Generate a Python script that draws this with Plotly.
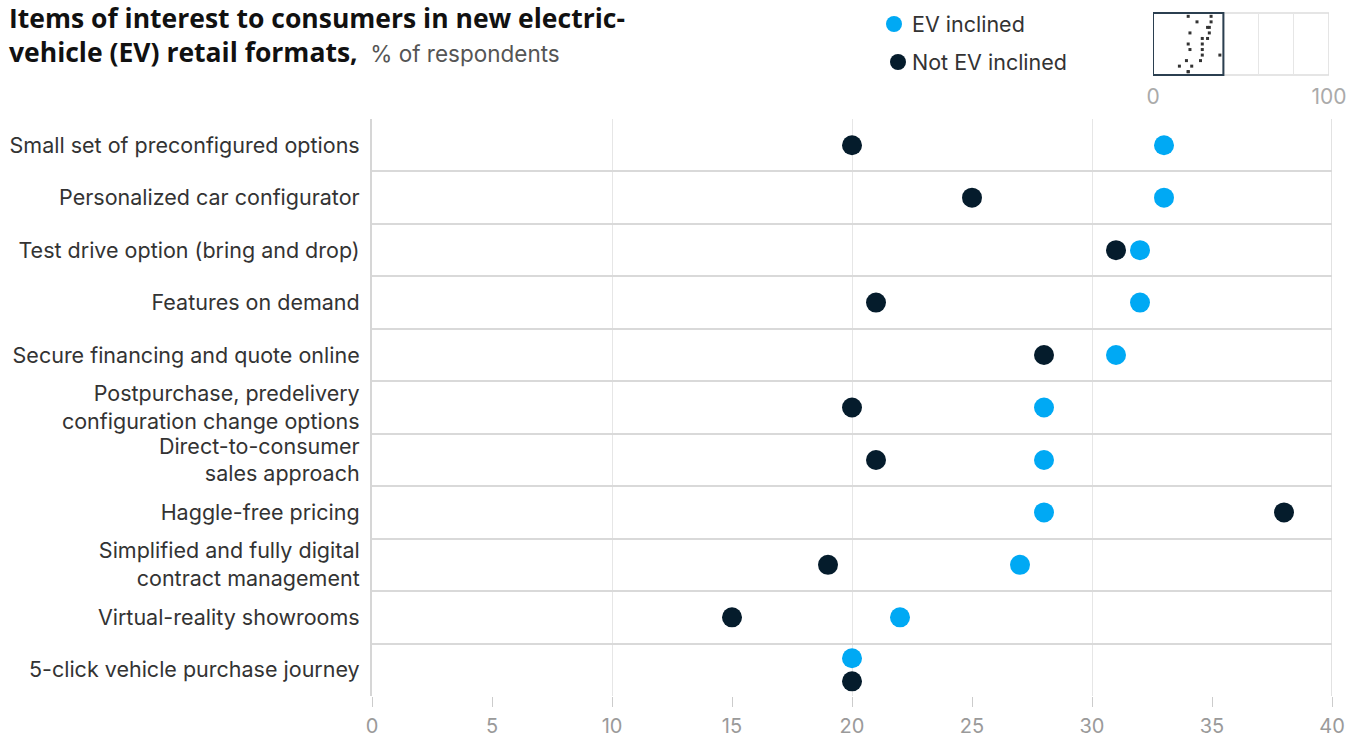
import plotly.graph_objects as go

categories = [
    "Small set of preconfigured options",
    "Personalized car configurator",
    "Test drive option (bring and drop)",
    "Features on demand",
    "Secure financing and quote online",
    "Postpurchase, predelivery<br>configuration change options",
    "Direct-to-consumer<br>sales approach",
    "Haggle-free pricing",
    "Simplified and fully digital<br>contract management",
    "Virtual-reality showrooms",
    "5-click vehicle purchase journey",
]
ev_inclined = [33, 33, 32, 32, 31, 28, 28, 28, 27, 22, 20]
not_ev_inclined = [20, 25, 31, 21, 28, 20, 21, 38, 19, 15, 20]
x_ticks = [0, 5, 10, 15, 20, 25, 30, 35, 40]

EV_COLOR = "#00A9F4"
NOT_COLOR = "#051C2C"
FONT = "Inter"
W, H = 1364, 738

idx = list(range(len(categories)))
# when both values coincide, nudge the two dots apart vertically
ev_y = [i - 0.22 if a == b else i for i, a, b in zip(idx, ev_inclined, not_ev_inclined)]
not_y = [i + 0.22 if a == b else i for i, a, b in zip(idx, ev_inclined, not_ev_inclined)]

def px_x(p):
    return p / W

def px_y(p):
    return 1 - p / H

fig = go.Figure()
fig.add_trace(go.Scatter(x=not_ev_inclined, y=not_y, mode="markers", name="Not EV inclined",
                         marker=dict(size=20, color=NOT_COLOR, line=dict(width=0)),
                         xaxis="x", yaxis="y", showlegend=False))
fig.add_trace(go.Scatter(x=ev_inclined, y=ev_y, mode="markers", name="EV inclined",
                         marker=dict(size=20, color=EV_COLOR, line=dict(width=0)),
                         xaxis="x", yaxis="y", showlegend=False))
# mini overview map
fig.add_trace(go.Scatter(x=not_ev_inclined, y=idx, mode="markers",
                         marker=dict(size=3, color="#333333", symbol="square", line=dict(width=0)),
                         xaxis="x2", yaxis="y2", showlegend=False))
fig.add_trace(go.Scatter(x=ev_inclined, y=idx, mode="markers",
                         marker=dict(size=3, color="#333333", symbol="square", line=dict(width=0)),
                         xaxis="x2", yaxis="y2", showlegend=False))

fig.update_layout(
    template="none",
    width=W, height=H, autosize=False,
    margin=dict(l=0, r=0, t=0, b=0, pad=0, autoexpand=False),
    paper_bgcolor="white", plot_bgcolor="white",
    font=dict(family=FONT, color="#333333"),
    xaxis=dict(
        domain=[px_x(372), px_x(1332)], range=[0, 40], automargin=False,
        tickvals=x_ticks, ticktext=[str(v) for v in x_ticks],
        tickfont=dict(size=20, color="#9a9a9a"),
        ticks="outside", ticklen=10, tickcolor="#cccccc", tickwidth=1,
        ticklabelstandoff=2,
        showgrid=False, zeroline=False, showline=False, anchor="y",
        minor=dict(tickvals=[10, 20, 30, 40], showgrid=True, gridcolor="#e6e6e6", gridwidth=1, ticks=""),
    ),
    yaxis=dict(
        domain=[px_y(696), px_y(119)], range=[10.5, -0.5], automargin=False,
        tickvals=idx, ticktext=categories,
        tickfont=dict(size=21.5, color="#333333"),
        ticks="", ticklabelstandoff=6,
        showgrid=False, zeroline=False, showline=True, linecolor="#d6d6d6", linewidth=2,
        minor=dict(tick0=0.5, dtick=1, showgrid=True, gridcolor="#d9d9d9", gridwidth=2, ticks=""),
        anchor="x",
    ),
    xaxis2=dict(
        domain=[px_x(1153), px_x(1329)], range=[0, 100], automargin=False,
        tickvals=[0, 100], ticktext=["0", "100"],
        tickfont=dict(size=21, color="#aaaaaa"), ticks="", ticklabelstandoff=7,
        showgrid=False, zeroline=False, showline=False, anchor="y2",
        minor=dict(tickvals=[60, 80], showgrid=True, gridcolor="#e6e6e6", gridwidth=1, ticks=""),
    ),
    yaxis2=dict(
        domain=[px_y(75), px_y(13)], range=[10.6, -0.6], automargin=False,
        showticklabels=False, ticks="", showgrid=False, zeroline=False, anchor="x2",
    ),
    showlegend=False,
)

# mini map frames
fig.add_shape(type="rect", xref="x2", yref="y2 domain", x0=40, x1=100, y0=0, y1=1,
              line=dict(color="#dddddd", width=1.5), layer="below")
fig.add_shape(type="rect", xref="x2", yref="y2 domain", x0=0, x1=40, y0=0, y1=1,
              line=dict(color="#2b3f50", width=2))
# right border of main plot
fig.add_shape(type="line", xref="x", yref="y domain", x0=40, x1=40, y0=0, y1=1,
              line=dict(color="#d9d9d9", width=1.5), layer="below")

# title
fig.add_annotation(
    xref="paper", yref="paper", x=px_x(7), y=px_y(-2), xanchor="left", yanchor="top",
    align="left", showarrow=False,
    text="<b style='font-family:\"Open Sans\"'>Items of interest to consumers in new electric-<br>"
         "vehicle (EV) retail formats,</b>"
         "<span style='color:#555555;font-size:22.5px'>  % of respondents</span>",
    font=dict(size=26.5, color="#111111", family=FONT),
)

# legend
legend_items = [("EV inclined", EV_COLOR, 894, 24), ("Not EV inclined", NOT_COLOR, 898, 62)]
for label, color, cx, cy in legend_items:
    r = 8
    fig.add_shape(type="circle", xref="paper", yref="paper",
                  x0=px_x(cx - r), x1=px_x(cx + r), y0=px_y(cy + r), y1=px_y(cy - r),
                  fillcolor=color, line=dict(width=0))
    fig.add_annotation(xref="paper", yref="paper", x=px_x(910), y=px_y(cy),
                       xanchor="left", yanchor="middle", showarrow=False,
                       text=label, font=dict(size=21.5, color="#333333", family=FONT))

fig.write_html("out.html", config={"responsive": False})
